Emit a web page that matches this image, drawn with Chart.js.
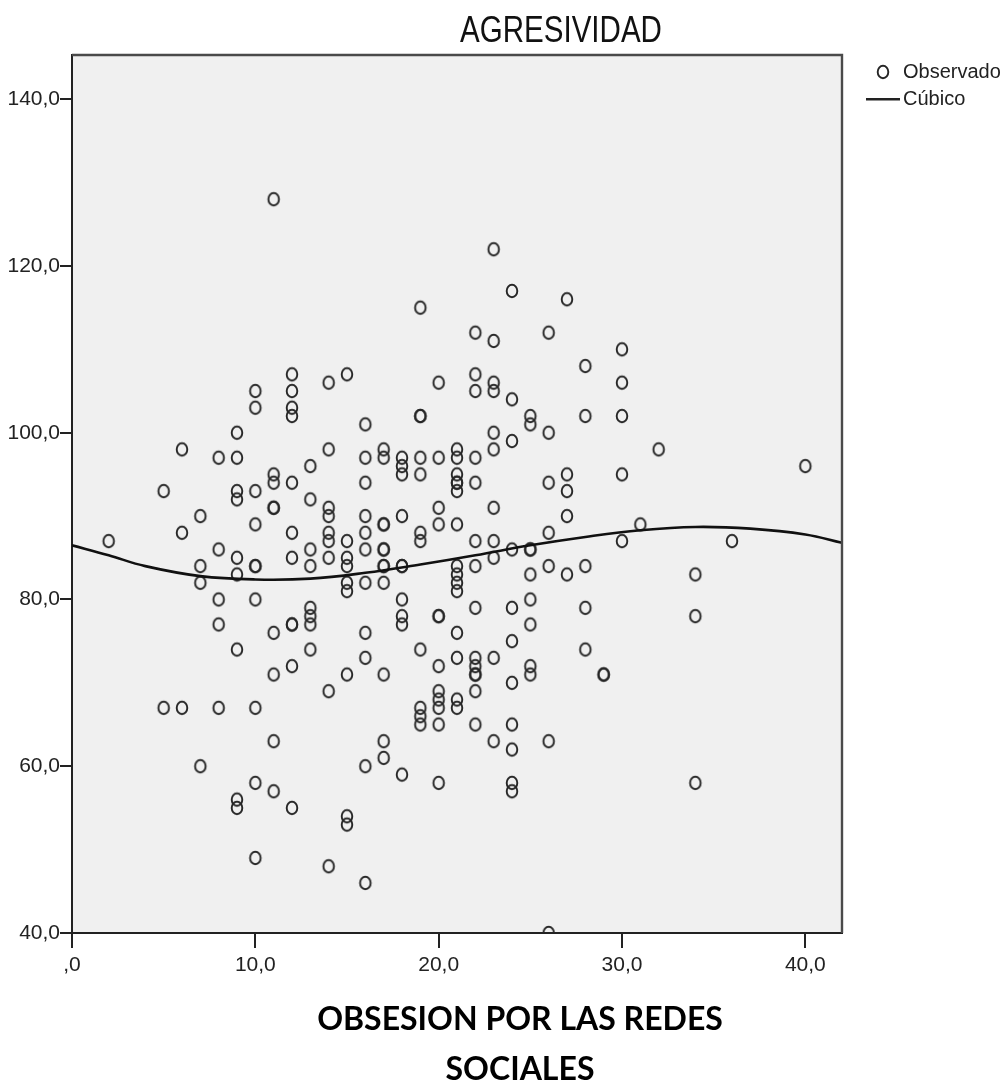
<!DOCTYPE html>
<html><head><meta charset="utf-8">
<script src="https://cdn.jsdelivr.net/npm/chart.js@4.4.1/dist/chart.umd.min.js"></script>
<style>html,body{margin:0;padding:0;background:#fff;}#wrap{width:1006px;height:1086px;}</style>
</head><body><div id="wrap"><canvas id="c" width="1006" height="1086"></canvas></div>
<script>
// ---- text ----
const CHART_TITLE = 'AGRESIVIDAD';
const X_TITLE = ['OBSESION POR LAS REDES', 'SOCIALES'];
const SERIES_NAMES = ['Observado', 'Cúbico'];
// ---- axes ----
const X_TICKS = [0, 10, 20, 30, 40];
const Y_TICKS = [40, 60, 80, 100, 120, 140];
const X_RANGE = [0, 42];
const Y_RANGE = [40, 145.3];
// ---- observed values: x value and the y values observed at it ----
const OBS_X = [2, 5, 6, 7, 8, 9, 10, 11, 12, 13, 14, 15, 16, 17, 18, 19, 20, 21, 22, 23, 24, 25, 26, 27, 28, 29, 30, 31, 32, 34, 36, 40];
const OBS_Y = [
  [87],
  [93, 67],
  [98, 88, 67],
  [90, 84, 82, 60],
  [97, 86, 80, 77, 67],
  [100, 97, 93, 92, 85, 83, 74, 56, 55],
  [105, 103, 93, 89, 84, 84, 80, 67, 58, 49],
  [128, 95, 94, 91, 91, 76, 71, 63, 57],
  [107, 105, 103, 102, 94, 88, 85, 77, 77, 72, 55],
  [96, 92, 86, 84, 79, 78, 77, 74],
  [106, 98, 91, 90, 88, 87, 85, 69, 48],
  [107, 87, 85, 84, 82, 81, 71, 54, 53],
  [101, 97, 94, 90, 88, 86, 82, 76, 73, 60, 46],
  [98, 97, 89, 89, 86, 86, 84, 84, 82, 71, 63, 61],
  [97, 96, 95, 90, 84, 84, 80, 78, 77, 59],
  [115, 102, 102, 97, 95, 88, 87, 74, 67, 66, 65],
  [106, 97, 91, 89, 78, 78, 72, 69, 68, 67, 65, 58],
  [98, 97, 95, 94, 94, 93, 89, 84, 83, 82, 81, 76, 73, 68, 67],
  [112, 107, 105, 97, 94, 87, 84, 79, 73, 72, 71, 71, 69, 65],
  [122, 111, 106, 105, 100, 98, 91, 87, 85, 73, 63],
  [117, 104, 99, 86, 79, 75, 70, 65, 62, 58, 57],
  [102, 101, 86, 86, 83, 80, 77, 72, 71],
  [112, 100, 94, 88, 84, 63, 40],
  [116, 95, 93, 90, 83],
  [108, 102, 84, 79, 74],
  [71, 71],
  [110, 106, 102, 95, 87],
  [89],
  [98],
  [83, 78, 58],
  [87],
  [96]
];
// ---- cubic fit curve ----
const CUBIC_X = [0, 2, 4, 7, 10, 13, 16, 19, 22, 25, 28, 31, 34, 37, 40, 42];
const CUBIC_Y = [86.5, 85.3, 84.0, 82.8, 82.4, 82.5, 83.2, 84.2, 85.3, 86.5, 87.5, 88.3, 88.7, 88.5, 87.8, 86.8];

// ---- build library data ----
const observedPoints = [];
OBS_X.forEach((x, i) => OBS_Y[i].forEach(y => observedPoints.push({x, y})));
const cubicPoints = CUBIC_X.map((x, i) => ({x, y: CUBIC_Y[i]}));

const SANS = '"Liberation Sans", Arial, sans-serif';
const TICK_SIZE = 21;
const LEG_SIZE = 20;
const fmt = v => v === 0 ? ',0' : v.toFixed(1).replace('.', ',');

// marker: slightly tall open ellipse
const marker = document.createElement('canvas');
marker.width = 18; marker.height = 20;
(function(){ const g = marker.getContext('2d'); g.strokeStyle = '#262626'; g.lineWidth = 1.9;
  g.beginPath(); g.ellipse(9, 10, 5.3, 6.2, 0, 0, Math.PI * 2); g.stroke(); })();
// legend line icon
const lineIcon = document.createElement('canvas');
lineIcon.width = 34; lineIcon.height = 4;
(function(){ const g = lineIcon.getContext('2d'); g.fillStyle = '#222'; g.fillRect(0, 1, 34, 2.5); })();

const LEGEND_ITEM_X = 870, LEG_PAD = 7, LEG_BOX = 23, GAP = 24;

const framePlugin = {
  id: 'frame',
  beforeDraw(chart) {
    const {ctx, chartArea: a} = chart;
    ctx.save();
    ctx.fillStyle = '#f0f0f0';
    ctx.fillRect(a.left, a.top, a.right - a.left, a.bottom - a.top);
    ctx.restore();
  },
  afterDraw(chart) {
    const {ctx, chartArea: a} = chart;
    ctx.save();
    ctx.strokeStyle = '#4a4a4a';
    ctx.lineWidth = 2.4;
    ctx.beginPath();
    ctx.moveTo(a.left, a.top); ctx.lineTo(a.right, a.top); ctx.lineTo(a.right, a.bottom);
    ctx.stroke();
    ctx.fillStyle = '#111';
    ctx.textAlign = 'center';
    ctx.textBaseline = 'alphabetic';
    // narrow title (horizontally condensed like the original)
    ctx.save();
    ctx.scale(0.82, 1);
    ctx.font = '36px ' + SANS;
    ctx.fillText(CHART_TITLE, 561 / 0.82, 42);
    ctx.restore();
    ctx.font = 'bold 32px Lato, "Open Sans", sans-serif';
    ctx.fillStyle = '#000';
    ctx.fillText(X_TITLE[0], 520, 1030);
    ctx.fillText(X_TITLE[1], 520, 1080);
    ctx.restore();
  }
};

function legendWidth(ctx) {
  ctx.save();
  ctx.font = LEG_SIZE + 'px ' + SANS;
  const tw = Math.max(...SERIES_NAMES.map(s => ctx.measureText(s).width));
  ctx.restore();
  return LEG_PAD + LEG_BOX + LEG_SIZE / 2 + tw + 10;
}
const legW = legendWidth(document.createElement('canvas').getContext('2d'));
const rightPad = 1006 - (LEGEND_ITEM_X - LEG_PAD) - legW;

new Chart(document.getElementById('c'), {
  type: 'scatter',
  data: {
    datasets: [
      { type: 'scatter', label: SERIES_NAMES[0], data: observedPoints,
        pointStyle: marker, pointRadius: 7, pointHoverRadius: 7,
        borderColor: '#262626', backgroundColor: 'rgba(0,0,0,0)', clip: 0, order: 2 },
      { type: 'line', label: SERIES_NAMES[1], data: cubicPoints, showLine: true,
        pointRadius: 0, borderColor: '#111', borderWidth: 2.6, tension: 0.4,
        fill: false, clip: 0, order: 1 }
    ]
  },
  options: {
    responsive: false, animation: false, devicePixelRatio: 1,
    layout: { padding: { top: 55, left: 0, bottom: 0, right: rightPad } },
    plugins: {
      tooltip: { enabled: false },
      title: { display: false },
      legend: {
        position: 'right', align: 'start',
        labels: {
          usePointStyle: true, boxWidth: LEG_BOX, boxHeight: 9, padding: LEG_PAD,
          color: '#222', font: { family: SANS, size: LEG_SIZE },
          generateLabels(chart) {
            return chart.data.datasets.map((ds, i) => ({
              text: ds.label, datasetIndex: i, hidden: false,
              fillStyle: 'rgba(0,0,0,0)', strokeStyle: '#262626', lineWidth: 1.5,
              pointStyle: i === 0 ? marker : lineIcon, fontColor: '#222'
            }));
          }
        }
      }
    },
    scales: {
      x: {
        type: 'linear', position: 'bottom', min: X_RANGE[0], max: X_RANGE[1],
        afterBuildTicks: s => { s.ticks = X_TICKS.map(v => ({value: v})); },
        afterFit: s => { s.height = 1086 - 933; },
        ticks: { callback: v => fmt(v), color: '#222', padding: 5, maxRotation: 0,
                 font: { family: SANS, size: TICK_SIZE } },
        grid: { display: true, drawOnChartArea: false, drawTicks: true, tickLength: 15, color: '#222', lineWidth: 2 },
        border: { display: true, color: '#222', width: 2 }
      },
      y: {
        type: 'linear', position: 'left', min: Y_RANGE[0], max: Y_RANGE[1],
        afterBuildTicks: s => { s.ticks = Y_TICKS.map(v => ({value: v})); },
        afterFit: s => { s.width = 72; },
        ticks: { callback: v => fmt(v), color: '#222', padding: 0,
                 font: { family: SANS, size: TICK_SIZE } },
        grid: { display: true, drawOnChartArea: false, drawTicks: true, tickLength: 12, color: '#222', lineWidth: 2 },
        border: { display: true, color: '#222', width: 2 }
      },
      gap: {
        type: 'linear', position: 'right', display: true,
        afterFit: s => { s.width = GAP; },
        ticks: { display: false }, grid: { display: false, drawTicks: false }, border: { display: false }
      }
    }
  },
  plugins: [framePlugin]
});
</script></body></html>
